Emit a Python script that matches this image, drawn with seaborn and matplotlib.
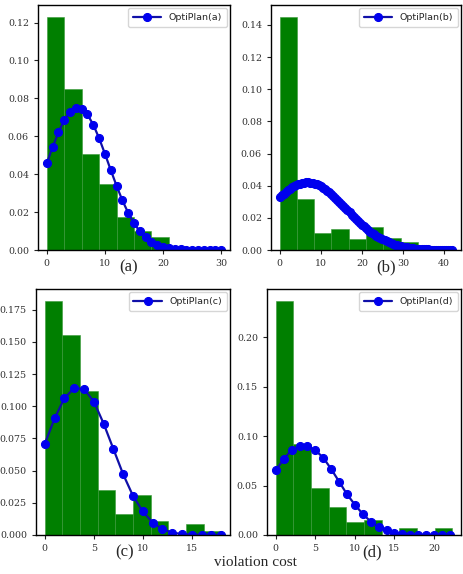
import numpy as np
import pandas as pd
import matplotlib
matplotlib.use("Agg")
import matplotlib.pyplot as plt
import seaborn as sns

# ---------------- data ----------------
# (a)
hist_a_edges = [0, 3, 6, 9, 12, 15, 18, 21]
hist_a_heights = [0.1231, 0.0850, 0.0508, 0.0349, 0.0176, 0.0099, 0.0069]
curve_a_x = list(range(0, 31))
curve_a_y = [0.0457, 0.0542, 0.0620, 0.0685, 0.0730, 0.0751, 0.0746, 0.0715, 0.0661, 0.0590,
             0.0508, 0.0422, 0.0339, 0.0262, 0.0196, 0.0141, 0.0098, 0.0066, 0.0043, 0.0027,
             0.0016, 0.00094, 0.00053, 0.00028, 0.00015, 0.000075, 0.00004, 0.00002, 0.00001,
             0.0, 0.0]

# (b)
hist_b_edges = [0, 4.2, 8.4, 12.6, 16.8, 21.0, 25.2, 29.4, 33.6, 37.8, 42.0]
hist_b_heights = [0.1451, 0.0320, 0.0104, 0.0129, 0.0067, 0.0141, 0.0073, 0.0050, 0.0022, 0.0012]
curve_b_x = [0, 0.5, 1, 1.5, 2, 2.5, 3, 3.5, 4, 4.5, 5, 5.5, 6, 6.5, 7, 7.5, 8, 8.5, 9, 9.5,
             10, 10.5, 11, 11.5, 12, 12.5, 13, 13.5, 14, 14.5, 15, 15.5, 16, 16.5, 17, 17.5,
             18, 18.5, 19, 19.5, 20, 20.5, 21, 21.5, 22, 22.5, 23, 23.5, 24, 24.5, 25, 25.5,
             26, 26.5, 27, 27.5, 28, 28.5, 29, 29.5, 30, 30.5, 31, 31.5, 32, 32.5, 33, 33.5,
             34, 34.5, 35, 35.5, 36, 36.5, 37, 37.5, 38, 38.5, 39, 39.5, 40, 40.5, 41, 41.5, 42]
curve_b_y = [0.03275, 0.03394, 0.03508, 0.03616, 0.03716, 0.03809, 0.03893, 0.03969, 0.04034,
             0.04089, 0.04133, 0.04167, 0.04189, 0.04199, 0.04198, 0.04185, 0.04161, 0.04125,
             0.04079, 0.04021, 0.03954, 0.03877, 0.03791, 0.03697, 0.03595, 0.03486, 0.03371,
             0.03251, 0.03127, 0.02998, 0.02867, 0.02735, 0.02601, 0.02467, 0.02333, 0.02201,
             0.02070, 0.01942, 0.01817, 0.01694, 0.01576, 0.01462, 0.01353, 0.01248, 0.01148,
             0.01053, 0.00964, 0.00879, 0.00800, 0.00726, 0.00657, 0.00593, 0.00533, 0.00478,
             0.00428, 0.00382, 0.00340, 0.00302, 0.00267, 0.00236, 0.00207, 0.00182, 0.00160,
             0.00139, 0.00121, 0.00105, 0.00091, 0.00079, 0.00068, 0.00058, 0.00050, 0.00042,
             0.00036, 0.00031, 0.00026, 0.00022, 0.00018, 0.00015, 0.00013, 0.00011, 0.00009,
             0.00007, 0.00006, 0.00005, 0.00004]

# (c)
hist_c_edges = [0, 1.8, 3.6, 5.4, 7.2, 9.0, 10.8, 12.6, 14.4, 16.2, 18.0]
hist_c_heights = [0.1820, 0.1550, 0.1118, 0.0346, 0.0162, 0.0314, 0.0107, 0.0, 0.0085, 0.0030]
curve_c_x = list(range(0, 19))
curve_c_y = [0.0709, 0.0906, 0.1063, 0.1141, 0.1134, 0.1037, 0.0866, 0.0668, 0.0471, 0.0304,
             0.0183, 0.0097, 0.0047, 0.0018, 0.0008, 0.0003, 0.0001, 0.00004, 0.00001]

# (d)
hist_d_edges = [0, 2.23, 4.46, 6.69, 8.92, 11.15, 13.38, 15.61, 17.84, 20.07, 22.3]
hist_d_heights = [0.2367, 0.0920, 0.0470, 0.0280, 0.0132, 0.0156, 0.0, 0.0068, 0.0, 0.0068]
curve_d_x = list(range(0, 23))
curve_d_y = [0.0655, 0.0767, 0.0859, 0.0900, 0.0900, 0.0856, 0.0781, 0.0666, 0.0540, 0.0411,
             0.0306, 0.0211, 0.0136, 0.0085, 0.0048, 0.0025, 0.0012, 0.0005, 0.0002, 0.0001,
             0.00003, 0.00001, 0.0]

panel_letters = ["(a)", "(b)", "(c)", "(d)"]
legend_labels = ["OptiPlan(a)", "OptiPlan(b)", "OptiPlan(c)", "OptiPlan(d)"]
xlabel_text = "violation cost"

# ---------------- plot ----------------
sns.set_style("ticks")
plt.rcParams["font.family"] = ["DejaVu Serif"]

W, H = 463, 574
fig = plt.figure(figsize=(W / 100, H / 100), dpi=100)

positions = [
    (38 / W, 1 - 250 / H, 192 / W, 245 / H),
    (271 / W, 1 - 250 / H, 190 / W, 245 / H),
    (36 / W, 1 - 535 / H, 194 / W, 246 / H),
    (267 / W, 1 - 535 / H, 194 / W, 246 / H),
]

hists = [(hist_a_edges, hist_a_heights), (hist_b_edges, hist_b_heights),
         (hist_c_edges, hist_c_heights), (hist_d_edges, hist_d_heights)]
curves = [(curve_a_x, curve_a_y), (curve_b_x, curve_b_y),
          (curve_c_x, curve_c_y), (curve_d_x, curve_d_y)]
yticks = [np.arange(0, 0.121, 0.02), np.arange(0, 0.141, 0.02),
          np.arange(0, 0.176, 0.025), np.arange(0, 0.201, 0.05)]
yfmt = ["{:.2f}", "{:.2f}", "{:.3f}", "{:.2f}"]
xticks = [[0, 10, 20, 30], [0, 10, 20, 30, 40], [0, 5, 10, 15], [0, 5, 10, 15, 20]]
letter_pos = [(129, 267), (386, 267), (125, 552), (372, 552)]

for i in range(4):
    ax = fig.add_axes(positions[i])
    edges, heights = hists[i]
    centers = [(edges[k] + edges[k + 1]) / 2 for k in range(len(heights))]
    dfh = pd.DataFrame({"x": centers, "w": heights})
    sns.histplot(data=dfh, x="x", weights="w", bins=edges, stat="count",
                 color="#007f00", alpha=1.0, edgecolor="#3a9a3a", linewidth=0.4, ax=ax)
    cx, cy = curves[i]
    dfc = pd.DataFrame({"x": cx, "y": cy})
    sns.lineplot(data=dfc, x="x", y="y", ax=ax, color="#1010a8", linewidth=1.6,
                 marker="o", markersize=5.8, markerfacecolor="#0000ee",
                 markeredgecolor="#0000ee", label=legend_labels[i])
    ax.set_xlabel("")
    ax.set_ylabel("")
    ax.set_yticks(yticks[i])
    ax.set_yticklabels([yfmt[i].format(v) for v in yticks[i]])
    ax.set_xticks(xticks[i])
    ax.set_xticklabels([str(v) for v in xticks[i]])
    ax.tick_params(axis="both", labelsize=6.8, length=3, width=0.8, colors="#222222",
                   labelcolor="#333333")
    for s in ax.spines.values():
        s.set_color("black")
        s.set_linewidth(1.0)
    ymax = max(max(heights), max(cy)) * 1.05
    ax.set_ylim(0, ymax)
    xmin, xmax = min(edges[0], cx[0]), max(edges[-1], cx[-1])
    pad = (xmax - xmin) * 0.05
    ax.set_xlim(xmin - pad, xmax + pad)
    leg = ax.legend(loc="upper right", handlelength=3.0,
                    prop={"family": "DejaVu Sans", "size": 6.8},
                    frameon=True, borderpad=0.5, borderaxespad=0.35, fancybox=True)
    leg.get_frame().set_edgecolor("#cccccc")
    lx, ly = letter_pos[i]
    fig.text(lx / W, 1 - ly / H, panel_letters[i], ha="center", va="center",
             fontsize=12, family="Liberation Serif")

fig.text(255 / W, 1 - 562 / H, xlabel_text, ha="center", va="center",
         fontsize=11, family="Liberation Serif")

fig.savefig("out.png", dpi=100)
